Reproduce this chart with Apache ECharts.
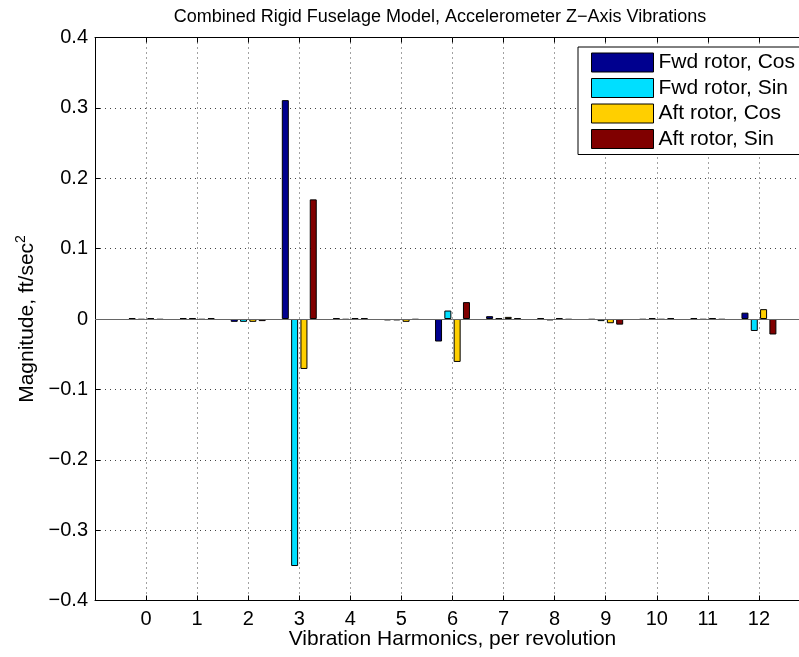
<!DOCTYPE html>
<html>
<head>
<meta charset="utf-8">
<script src="https://cdn.jsdelivr.net/npm/echarts@6/dist/echarts.min.js"></script>
<style>html,body{margin:0;padding:0;background:#fff;overflow:hidden;}#c{width:830px;height:657px;}</style>
</head>
<body>
<div id="c"></div>
<script>
const harmonics = [0,1,2,3,4,5,6,7,8,9,10,11,12];
const fwdCos = [0.001, 0.001, -0.004, 0.311, 0.001, -0.002, -0.032, 0.004, 0.001, -0.001, -0.001, 0.001, 0.009];
const fwdSin = [-0.001, 0.001, -0.004, -0.351, -0.001, -0.002, 0.012, 0.001, -0.002, -0.003, 0.001, -0.001, -0.017];
const aftCos = [0.001, -0.001, -0.004, -0.071, 0.001, -0.004, -0.061, 0.003, 0.001, -0.006, -0.001, 0.001, 0.014];
const aftSin = [-0.001, 0.001, -0.003, 0.170, 0.001, -0.001, 0.024, 0.001, -0.001, -0.008, 0.001, -0.001, -0.022];
const seriesNames = ['Fwd rotor, Cos', 'Fwd rotor, Sin', 'Aft rotor, Cos', 'Aft rotor, Sin'];
const colors = ['#00008F', '#00DFFF', '#FFCF00', '#800000'];

const FONT = 'Liberation Sans, Arial, Helvetica, sans-serif';
const chart = echarts.init(document.getElementById('c'), null, {renderer: 'canvas'});
const allData = [fwdCos, fwdSin, aftCos, aftSin];
const series = allData.map((arr, i) => ({
  name: seriesNames[i],
  type: 'bar',
  xAxisIndex: 0,
  yAxisIndex: 0,
  data: harmonics.map((h, j) => [h, arr[j]]),
  barWidth: 7,
  barGap: '33%',
  itemStyle: {color: colors[i], borderColor: '#000', borderWidth: 1},
  emphasis: {disabled: true},
  animation: false,
  markLine: i === 0 ? {
    silent: true, symbol: 'none', label: {show: false},
    lineStyle: {color: '#666', width: 1, type: 'solid'},
    data: [{yAxis: 0}]
  } : undefined
}));

const gridLine = {show: true, lineStyle: {color: '#444', type: [1, 4], width: 1}};
chart.setOption({
  animation: false,
  textStyle: {fontFamily: FONT},
  title: {
    text: 'Combined Rigid Fuselage Model, Accelerometer Z\u2212Axis Vibrations',
    left: 435, top: 3, textAlign: 'center',
    textStyle: {fontFamily: FONT, fontSize: 18, fontWeight: 'normal', color: '#000'}
  },
  legend: {
    data: seriesNames,
    orient: 'vertical',
    left: 578, top: 47,
    padding: [5, 12, 5, 13],
    itemWidth: 62, itemHeight: 19, itemGap: 4.5,
    backgroundColor: '#fff',
    borderColor: '#000', borderWidth: 1,
    icon: 'rect',
    itemStyle: {borderColor: '#000', borderWidth: 1},
    textStyle: {fontFamily: FONT, fontSize: 21, lineHeight: 19, color: '#000'}
  },
  grid: {left: 95, top: 37.5, width: 715, height: 563, containLabel: false, outerBoundsMode: 'none'},
  xAxis: [{
    type: 'value', min: -1, max: 13, interval: 1,
    position: 'bottom',
    axisLine: {show: true, onZero: false, lineStyle: {color: '#000', width: 1}},
    axisTick: {show: true, inside: true, length: 5, lineStyle: {color: '#000'}},
    axisLabel: {
      fontFamily: FONT, fontSize: 20, color: '#000', margin: 9,
      formatter: v => (v < 0 || v > 12) ? '' : String(v)
    },
    splitLine: gridLine,
    name: 'Vibration Harmonics, per revolution',
    nameLocation: 'middle', nameGap: 28, nameMoveOverlap: false,
    nameTextStyle: {fontFamily: FONT, fontSize: 21, color: '#000'}
  }, {
    type: 'value', min: -1, max: 13, interval: 1,
    position: 'top',
    axisLine: {show: true, onZero: false, lineStyle: {color: '#000', width: 1}},
    axisTick: {show: true, inside: true, length: 5, lineStyle: {color: '#000'}},
    axisLabel: {show: false},
    splitLine: {show: false}
  }],
  yAxis: [{
    type: 'value', min: -0.4, max: 0.4, interval: 0.1,
    position: 'left',
    axisLine: {show: true, onZero: false, lineStyle: {color: '#000', width: 1}},
    axisTick: {show: true, inside: true, length: 5, lineStyle: {color: '#000'}},
    axisLabel: {
      fontFamily: FONT, fontSize: 20, color: '#000', margin: 7,
      formatter: v => {
        const r = Math.round(v * 10) / 10;
        return r === 0 ? '0' : String(r).replace('-', '\u2212');
      }
    },
    splitLine: gridLine,
    name: 'Magnitude, ft/sec{sup|2}',
    nameLocation: 'middle', nameGap: 38, nameRotate: 90,
    nameTextStyle: {
      fontFamily: FONT, fontSize: 21, color: '#000',
      rich: {sup: {fontFamily: FONT, fontSize: 14, color: '#000', verticalAlign: 'top', padding: [0, 0, 12, 0]}}
    }
  }],
  series: series
});
</script>
</body>
</html>
